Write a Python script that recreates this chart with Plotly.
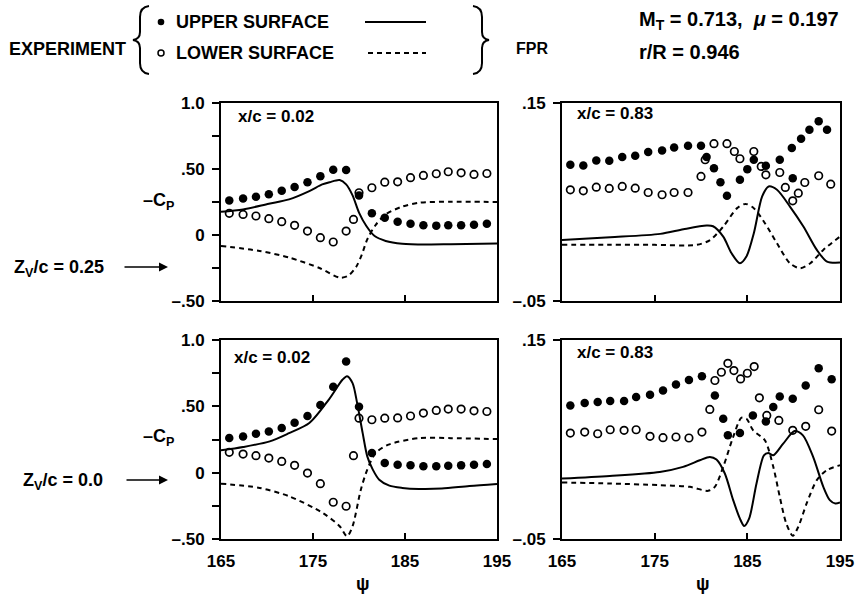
import plotly.graph_objects as go

W, H = 860, 597

# ---------------- DATA ----------------
# top-left: Zv/c = 0.25, x/c = 0.02
tl_up_psi = [165.9, 167.4, 168.8, 170.2, 171.6, 173.0, 174.4, 175.8, 177.2, 178.6,
             180.0, 181.4, 182.8, 184.2, 185.6, 187.0, 188.4, 189.7, 191.1, 192.5, 193.9]
tl_up_cp = [0.262, 0.277, 0.290, 0.308, 0.335, 0.363, 0.400, 0.446, 0.494, 0.492,
            0.300, 0.164, 0.131, 0.100, 0.086, 0.073, 0.071, 0.073, 0.073, 0.078, 0.086]
tl_lo_psi = [165.9, 167.4, 168.8, 170.2, 171.6, 173.0, 174.4, 175.8, 177.2, 178.6, 179.4,
             180.0, 181.4, 182.8, 184.2, 185.6, 187.0, 188.4, 189.7, 191.1, 192.5, 193.9]
tl_lo_cp = [0.164, 0.156, 0.144, 0.124, 0.101, 0.073, 0.030, -0.020, -0.053, 0.030, 0.118,
            0.320, 0.358, 0.400, 0.403, 0.434, 0.451, 0.464, 0.479, 0.471, 0.459, 0.466]
tl_fpr_up_psi = [165.0, 167.4, 170.2, 172.4, 174.6, 176.0, 176.8, 177.9, 178.6, 179.3,
                 180.0, 180.8, 181.7, 182.9, 184.7, 187.3, 190.0, 195.0]
tl_fpr_up_cp = [0.176, 0.194, 0.237, 0.270, 0.333, 0.383, 0.400, 0.416, 0.383, 0.300,
                0.170, 0.068, -0.008, -0.045, -0.066, -0.072, -0.070, -0.065]
tl_fpr_lo_psi = [165.0, 169.2, 172.4, 175.7, 177.9, 178.8, 179.7, 180.3, 180.9, 181.8,
                 182.9, 184.7, 186.6, 190.0, 195.0]
tl_fpr_lo_cp = [-0.083, -0.121, -0.171, -0.250, -0.323, -0.310, -0.240, -0.150, -0.033, 0.075,
                0.156, 0.215, 0.245, 0.252, 0.250]

# top-right: Zv/c = 0.25, x/c = 0.83
tr_up_psi = [165.9, 167.3, 168.7, 170.1, 171.5, 172.9, 174.3, 175.8, 177.1, 178.6, 180.0,
             180.6, 181.4, 182.1, 182.8, 184.2, 185.0, 185.7, 187.0, 188.5, 189.9, 189.8,
             190.8, 191.7, 192.7, 193.6]
tr_up_cp = [0.0876, 0.0869, 0.0920, 0.0917, 0.0954, 0.0967, 0.1004, 0.1021, 0.1051, 0.1068, 0.1068,
            0.0954, 0.0842, 0.0700, 0.0562, 0.0724, 0.0832, 0.0927, 0.0866, 0.0927, 0.0741, 0.1045,
            0.1139, 0.1230, 0.1315, 0.1230]
tr_lo_psi = [165.9, 167.3, 168.7, 170.1, 171.5, 172.9, 174.3, 175.8, 177.1, 178.6, 180.0,
             180.45, 181.4, 182.8, 183.6, 184.2, 185.7, 186.5, 187.0, 188.5, 189.1, 189.9,
             190.5, 191.2, 192.7, 194.0]
tr_lo_cp = [0.0623, 0.0613, 0.0650, 0.0637, 0.0657, 0.0640, 0.0596, 0.0573, 0.0596, 0.0596, 0.0758,
            0.0927, 0.1089, 0.1089, 0.1010, 0.0937, 0.1010, 0.0859, 0.0775, 0.0798, 0.0647, 0.0512,
            0.0589, 0.0697, 0.0765, 0.0680]
tr_fpr_up_psi = [165.0, 170.2, 175.6, 178.1, 180.6, 181.3, 182.4, 183.3, 184.2, 184.9, 185.7,
                 186.6, 187.3, 188.2, 189.6, 191.05, 192.5, 193.6, 195.0]
tr_fpr_up_cp = [0.0117, 0.0144, 0.0178, 0.0225, 0.0262, 0.0255, 0.0150, -0.0018, -0.0119, -0.0051, 0.0185,
                0.0556, 0.0657, 0.0623, 0.0454, 0.0252, 0.0016, -0.0102, -0.0112]
tr_fpr_lo_psi = [165.0, 170.0, 175.0, 179.55, 181.0, 182.4, 183.9, 184.8, 185.7, 186.9, 188.2,
                 189.6, 190.7, 191.8, 193.2, 195.0]
tr_fpr_lo_cp = [0.0067, 0.0067, 0.0067, 0.0067, 0.0117, 0.0252, 0.0438, 0.0481, 0.0438, 0.0286, 0.0083,
                -0.0119, -0.0169, -0.0119, 0.0016, 0.0151]

# bottom-left: Zv/c = 0.0, x/c = 0.02
bl_up_psi = tl_up_psi
bl_up_cp = [0.261, 0.273, 0.293, 0.311, 0.336, 0.377, 0.427, 0.510, 0.648, 0.838,
            0.497, 0.148, 0.073, 0.060, 0.056, 0.048, 0.048, 0.053, 0.055, 0.060, 0.065]
bl_lo_psi = tl_lo_psi
bl_lo_cp = [0.153, 0.140, 0.128, 0.110, 0.085, 0.055, -0.003, -0.083, -0.223, -0.253, 0.128,
            0.411, 0.399, 0.411, 0.413, 0.427, 0.449, 0.469, 0.479, 0.479, 0.466, 0.461]
bl_fpr_up_psi = [165.0, 167.4, 170.3, 172.4, 174.6, 176.7, 178.2, 178.7, 179.3, 179.8,
                 180.4, 180.9, 181.5, 182.2, 183.3, 184.7, 186.5, 189.0, 192.0, 195.0]
bl_fpr_up_cp = [0.168, 0.193, 0.236, 0.298, 0.374, 0.549, 0.700, 0.727, 0.675, 0.524,
                0.298, 0.123, 0.023, -0.053, -0.098, -0.115, -0.123, -0.120, -0.100, -0.085]
bl_fpr_lo_psi = [165.0, 169.2, 172.4, 176.05, 177.9, 178.7, 179.3, 180.2, 180.9, 181.8,
                 183.2, 186.6, 190.0, 195.0]
bl_fpr_lo_cp = [-0.083, -0.115, -0.178, -0.303, -0.404, -0.480, -0.404, -0.128, 0.023, 0.148,
                0.211, 0.261, 0.260, 0.253]

# bottom-right: Zv/c = 0.0, x/c = 0.83
br_up_psi = [165.9, 167.45, 168.85, 170.2, 171.7, 173.0, 174.5, 175.9, 177.3, 178.7, 180.1,
             181.5, 182.4, 182.9, 184.2, 185.6, 187.0, 187.8, 188.5, 189.9, 191.3, 192.7, 194.1]
br_up_cp = [0.0842, 0.0866, 0.0876, 0.0886, 0.0886, 0.0926, 0.0949, 0.0992, 0.1053, 0.1099, 0.1136,
            0.0942, 0.0709, 0.0542, 0.0565, 0.0742, 0.0682, 0.0826, 0.0932, 0.0909, 0.1043, 0.1216, 0.1106]
br_lo_psi = [165.9, 167.45, 168.85, 170.2, 171.7, 173.0, 174.5, 175.9, 177.3, 178.7, 180.1,
             180.95, 181.5, 182.2, 182.9, 183.55, 184.27, 185.0, 185.74, 186.3, 187.1, 188.4,
             189.9, 191.3, 192.7, 194.1]
br_lo_cp = [0.0565, 0.0575, 0.0558, 0.0598, 0.0592, 0.0598, 0.0532, 0.0518, 0.0525, 0.0515, 0.0575,
            0.0802, 0.1093, 0.1176, 0.1266, 0.1193, 0.1109, 0.1166, 0.1233, 0.0919, 0.0742, 0.0692,
            0.0592, 0.0632, 0.0799, 0.0585]
br_fpr_up_psi = [165.0, 170.15, 175.55, 178.07, 179.87, 180.95, 181.67, 182.57, 183.47, 184.19,
                 184.66, 185.2, 185.99, 186.79, 187.25, 187.8, 188.87, 190.1, 191.0, 192.1,
                 193.2, 193.9, 194.5, 195.0]
br_fpr_up_cp = [0.0108, 0.0134, 0.0174, 0.0225, 0.0291, 0.0325, 0.0298, 0.0158, -0.0109, -0.0293,
                -0.0370, -0.0293, 0.0058, 0.0341, 0.0365, 0.0341, 0.0458, 0.0585, 0.0542, 0.0325,
                0.0024, -0.0109, -0.0143, -0.0133]
br_fpr_lo_psi = [165.0, 170.15, 175.55, 178.8, 180.77, 181.49, 182.4, 183.47, 184.37, 184.91,
                 185.63, 186.89, 187.8, 188.5, 189.2, 189.9, 190.5, 191.4, 192.5, 193.56, 195.0]
br_fpr_lo_cp = [0.0068, 0.0058, 0.0041, 0.0024, -0.0016, 0.0024, 0.0225, 0.0525, 0.0719, 0.0709,
                0.0592, 0.0492, 0.0225, -0.0076, -0.0343, -0.0467, -0.0377, -0.0143, 0.0092, 0.0191, 0.0241]

x_ticks = [165, 175, 185, 195]
left_y_ticks = [-0.5, -0.25, 0, 0.25, 0.5, 0.75, 1.0]
left_y_text = ['\u2013.50', '', '0', '', '.50', '', '1.0']
right_y_ticks = [-0.05, 0.15]
right_y_text = ['\u2013.05', '.15']

# ---------------- FIGURE ----------------
FONT = "Liberation Sans"


def px(x, y):
    return x / W, 1 - y / H


fig = go.Figure()

panels = [
    ('x', 'y', tl_up_psi, tl_up_cp, tl_lo_psi, tl_lo_cp, tl_fpr_up_psi, tl_fpr_up_cp, tl_fpr_lo_psi, tl_fpr_lo_cp),
    ('x2', 'y2', tr_up_psi, tr_up_cp, tr_lo_psi, tr_lo_cp, tr_fpr_up_psi, tr_fpr_up_cp, tr_fpr_lo_psi, tr_fpr_lo_cp),
    ('x3', 'y3', bl_up_psi, bl_up_cp, bl_lo_psi, bl_lo_cp, bl_fpr_up_psi, bl_fpr_up_cp, bl_fpr_lo_psi, bl_fpr_lo_cp),
    ('x4', 'y4', br_up_psi, br_up_cp, br_lo_psi, br_lo_cp, br_fpr_up_psi, br_fpr_up_cp, br_fpr_lo_psi, br_fpr_lo_cp),
]

for xa, ya, ups, upc, los, loc, fus, fuc, fls, flc in panels:
    fig.add_trace(go.Scatter(x=fus, y=fuc, xaxis=xa, yaxis=ya, mode='lines',
                             line=dict(color='black', width=2, shape='spline', smoothing=0.8),
                             showlegend=False, hoverinfo='skip'))
    fig.add_trace(go.Scatter(x=fls, y=flc, xaxis=xa, yaxis=ya, mode='lines',
                             line=dict(color='black', width=2, dash='5px,4px', shape='spline', smoothing=0.8),
                             showlegend=False, hoverinfo='skip'))
    fig.add_trace(go.Scatter(x=los, y=loc, xaxis=xa, yaxis=ya, mode='markers',
                             marker=dict(symbol='circle-open', size=7.5, color='black', line=dict(width=1.7)),
                             showlegend=False))
    fig.add_trace(go.Scatter(x=ups, y=upc, xaxis=xa, yaxis=ya, mode='markers',
                             marker=dict(symbol='circle', size=8.5, color='black'),
                             showlegend=False))

# panel pixel boxes (left, right, top, bottom)
boxes = {
    '': (221, 497, 103, 301),
    '2': (562, 840, 103, 301),
    '3': (221, 497, 340, 539),
    '4': (562, 840, 340, 539),
}

tickfont = dict(family=FONT, size=17, color='black', weight='bold')
layout = dict(width=W, height=H, margin=dict(l=0, r=0, t=0, b=0, autoexpand=False),
              paper_bgcolor='white', plot_bgcolor='white', showlegend=False)

for k, (l, r, t, b) in boxes.items():
    x0, _ = px(l, 0)
    x1, _ = px(r, 0)
    _, y1 = px(0, t)
    _, y0 = px(0, b)
    bottom = k in ('3', '4')
    left = k in ('', '3')
    layout['xaxis' + k] = dict(domain=[x0, x1], range=[165, 195], anchor='y' + k,
                               tickvals=x_ticks, ticks='inside', ticklen=6, tickwidth=1.5,
                               tickcolor='black', showticklabels=bottom, tickfont=tickfont,
                               ticklabelstandoff=6, automargin=False,
                               showline=True, linecolor='black', linewidth=2, mirror=True,
                               showgrid=False, zeroline=False)
    layout['yaxis' + k] = dict(domain=[y0, y1], anchor='x' + k,
                               range=[-0.5, 1.0] if left else [-0.05, 0.15],
                               tickvals=left_y_ticks if left else right_y_ticks,
                               ticktext=left_y_text if left else right_y_text,
                               tickmode='array', automargin=False,
                               ticks='outside', ticklen=7, tickwidth=1.5, tickcolor='black',
                               tickfont=tickfont, ticklabelstandoff=4,
                               showline=True, linecolor='black', linewidth=2, mirror=True,
                               showgrid=False, zeroline=False)

fig.update_layout(**layout)

ann = []


def text(x, y, s, size=16, xanchor='left', yanchor='middle'):
    X, Y = px(x, y)
    ann.append(dict(x=X, y=Y, xref='paper', yref='paper', text=s, showarrow=False,
                    xanchor=xanchor, yanchor=yanchor, align=xanchor,
                    font=dict(family=FONT, size=size, color='black', weight='bold')))


text(7, 49, 'EXPERIMENT', 18)
text(174, 22, 'UPPER SURFACE', 18)
text(174, 53, 'LOWER SURFACE', 18)
text(514, 48, 'FPR', 16)
text(637, 20, 'M<sub>T</sub> = 0.713,  <i>\u03bc</i> = 0.197', 20)
text(637, 52, 'r/R = 0.946', 20)
text(236, 117, 'x/c = 0.02', 17)
text(575, 113, 'x/c = 0.83', 17)
text(232, 357, 'x/c = 0.02', 17)
text(575, 352, 'x/c = 0.83', 17)
text(176, 201, '\u2013C<sub>P</sub>', 18, 'right')
text(176, 437, '\u2013C<sub>P</sub>', 18, 'right')
text(12, 268, 'Z<sub>V</sub>/c = 0.25', 18)
text(21, 481, 'Z<sub>V</sub>/c = 0.0', 18)
text(363, 584, '\u03c8', 18, 'center')
text(703, 584, '\u03c8', 18, 'center')

for (xh, yh, xt) in [(168, 267, 123), (168, 480, 125)]:
    X, Y = px(xh, yh)
    ann.append(dict(x=X, y=Y, xref='paper', yref='paper', ax=xt - xh, ay=0,
                    axref='pixel', ayref='pixel', text='', showarrow=True,
                    arrowhead=2, arrowsize=1.2, arrowwidth=1.5, arrowcolor='black'))

fig.update_layout(annotations=ann)

shapes = []


def seg(x0, y0, x1, y1, dash='solid'):
    a, b = px(x0, y0)
    c, d = px(x1, y1)
    shapes.append(dict(type='line', xref='paper', yref='paper', x0=a, y0=b, x1=c, y1=d,
                       line=dict(color='black', width=2, dash=dash)))


def dot(cx, cy, r, filled):
    a, b = px(cx - r, cy + r)
    c, d = px(cx + r, cy - r)
    shapes.append(dict(type='circle', xref='paper', yref='paper', x0=a, y0=b, x1=c, y1=d,
                       fillcolor='black' if filled else 'rgba(0,0,0,0)',
                       line=dict(color='black', width=0 if filled else 1.5)))


seg(365, 22, 426, 22)
seg(368, 53, 426, 53, '5px,4px')
dot(161, 22, 3.3, True)
dot(161, 53, 3.0, False)


def path(pts):
    s = ''
    for cmd, coords in pts:
        s += cmd
        s += ' '.join('%.5f,%.5f' % px(x, y) for x, y in coords) + ' '
    shapes.append(dict(type='path', xref='paper', yref='paper', path=s.strip(),
                       line=dict(color='black', width=2)))


path([('M', [(149, 6)]), ('Q', [(140, 7), (140, 17)]), ('L', [(140, 32)]),
      ('Q', [(140, 39), (133, 40)]), ('Q', [(140, 41), (140, 48)]), ('L', [(140, 63)]),
      ('Q', [(140, 73), (149, 74)])])
path([('M', [(473, 6)]), ('Q', [(482, 7), (482, 17)]), ('L', [(482, 32)]),
      ('Q', [(482, 39), (489, 40)]), ('Q', [(482, 41), (482, 48)]), ('L', [(482, 63)]),
      ('Q', [(482, 73), (473, 74)])])

fig.update_layout(shapes=shapes)
fig.write_html("out.html", config={'displayModeBar': False},
               post_script="document.body.style.margin='0px';document.body.style.padding='0px';")
